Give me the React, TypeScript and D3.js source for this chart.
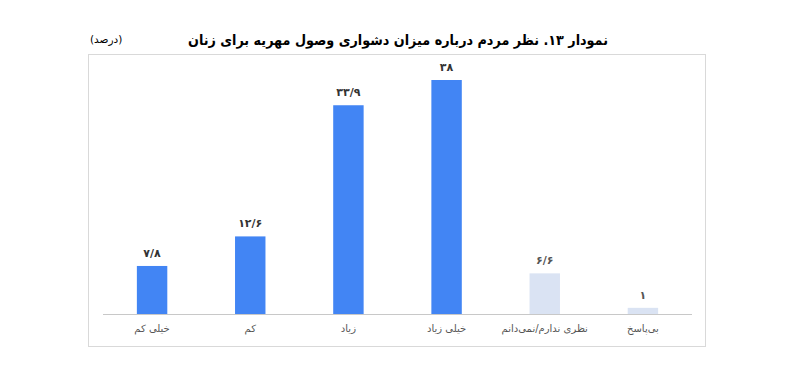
import React from "react";
import * as d3 from "d3";

const categories = ["خیلی کم", "کم", "زیاد", "خیلی زیاد", "نظری ندارم/نمی‌دانم", "بی‌پاسخ"];
const values = [7.8, 12.6, 33.9, 38, 6.6, 1];
const valueLabels = ["۷/۸", "۱۲/۶", "۳۳/۹", "۳۸", "۶/۶", "۱"];
const highlight = [true, true, true, true, false, false];

const W = 804;
const H = 371;

export default function App() {
  const x = d3.scaleBand<string>().domain(categories).range([103, 692]).paddingInner(0.69).paddingOuter(0.345);
  const y = d3.scaleLinear().domain([0, 38]).range([314, 80]);
  const font = "DejaVu Sans, sans-serif";
  return (
    <svg width={W} height={H} style={{ position: "absolute", left: 0, top: 0, background: "#fff" }}>
      <rect x={88.5} y={54.5} width={617} height={292} fill="#fff" stroke="#d9d9d9" />
      <text x={608} y={45} textAnchor="start" direction="rtl" fontFamily={font} fontWeight="bold" fontSize={14} textLength={420} lengthAdjust="spacingAndGlyphs" fill="#000">
        نمودار ۱۳. نظر مردم درباره میزان دشواری وصول مهریه برای زنان
      </text>
      <text x={90} y={43} textAnchor="end" direction="rtl" fontFamily={font} fontSize={10.5} fill="#000">
        (درصد)
      </text>
      {categories.map((c, i) => (
        <g key={c}>
          <rect x={x(c)} y={y(values[i])} width={x.bandwidth()} height={y(0) - y(values[i])} fill={highlight[i] ? "#4285f4" : "#dae3f3"} />
          <text x={(x(c) as number) + x.bandwidth() / 2} y={y(values[i]) - 9} textAnchor="middle" fontFamily={font} fontWeight="bold" fontSize={11} fill={highlight[i] ? "#333" : "#555"}>
            {valueLabels[i]}
          </text>
          <text x={(x(c) as number) + x.bandwidth() / 2} y={332} textAnchor="middle" direction="rtl" fontFamily={font} fontSize={10} fill="#555">
            {c}
          </text>
        </g>
      ))}
      <line x1={103} x2={692} y1={314.5} y2={314.5} stroke="#c8c8c8" strokeWidth={1} />
    </svg>
  );
}
